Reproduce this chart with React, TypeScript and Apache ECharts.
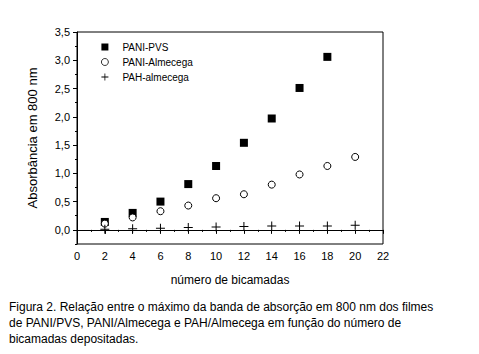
import React, { useEffect, useRef } from "react";
import * as echarts from "echarts";

const bilayers = [2, 4, 6, 8, 10, 12, 14, 16, 18, 20];
const paniPvs = [0.14, 0.3, 0.5, 0.81, 1.13, 1.54, 1.97, 2.51, 3.06];
const paniAlmecega = [0.11, 0.22, 0.33, 0.43, 0.56, 0.63, 0.8, 0.98, 1.13, 1.29];
const pahAlmecega = [0.01, 0.02, 0.03, 0.04, 0.05, 0.06, 0.07, 0.07, 0.07, 0.08];
const yTicks = [0, 0.5, 1, 1.5, 2, 2.5, 3, 3.5];
const yMinorTicks = [-0.25, 0.25, 0.75, 1.25, 1.75, 2.25, 2.75, 3.25];
const seriesNames = ["PANI-PVS", "PANI-Almecega", "PAH-almecega"];
const captionLines = [
  "Figura 2. Relação entre o máximo da banda de absorção em 800 nm dos filmes",
  "de PANI/PVS, PANI/Almecega e PAH/Almecega em função do número de",
  "bicamadas depositadas.",
];

const PLUS = "path://M4,0h1v4h4v1h-4v4h-1v-4h-4v-1h4z";
const FONT = "Arial, 'Liberation Sans', sans-serif";

export default function App() {
  const ref = useRef<HTMLDivElement>(null);
  useEffect(() => {
    if (!ref.current) return;
    const chart = echarts.init(ref.current, null, { renderer: "svg" });
    const pair = (vals: number[]) => vals.map((v, i) => [bilayers[i], v]);
    const yBase = {
      type: "value",
      min: -0.25,
      max: 3.5,
      splitLine: { show: false },
    };
    chart.setOption({
      animation: false,
      backgroundColor: "#fff",
      textStyle: { fontFamily: FONT },
      grid: {
        left: 77,
        top: 32,
        right: 96,
        bottom: 110,
        show: true,
        borderColor: "#000",
        borderWidth: 1,
        backgroundColor: "transparent",
      },
      legend: {
        orient: "vertical",
        left: 101,
        top: 42,
        padding: 0,
        itemWidth: 7,
        itemHeight: 7,
        itemGap: 5,
        itemStyle: { borderWidth: 0.8 },
        textStyle: {
          fontSize: 10,
          color: "#000",
          lineHeight: 10,
          padding: [0, 0, 0, 9],
        },
        data: seriesNames,
      },
      xAxis: {
        type: "value",
        min: 0,
        max: 22,
        interval: 2,
        name: "número de bicamadas",
        nameLocation: "middle",
        nameGap: 30,
        nameTextStyle: { fontSize: 12, color: "#000" },
        axisLine: { show: true, lineStyle: { color: "#000", width: 1 } },
        axisTick: { show: true, inside: false, length: 4, lineStyle: { color: "#000" } },
        minorTick: { show: true, splitNumber: 2, length: 2, lineStyle: { color: "#000" } },
        axisLabel: { fontSize: 11, color: "#000", margin: 6 },
        splitLine: { show: false },
      },
      yAxis: [
        {
          ...yBase,
          name: "Absorbância em 800 nm",
          nameLocation: "middle",
          nameGap: 38,
          nameTextStyle: { fontSize: 13, color: "#000" },
          axisLine: { show: true, lineStyle: { color: "#000", width: 1 } },
          axisTick: {
            show: true,
            length: 4,
            customValues: yTicks,
            lineStyle: { color: "#000" },
          },
          axisLabel: {
            fontSize: 11,
            color: "#000",
            margin: 7,
            customValues: yTicks,
            formatter: (v: number) => v.toFixed(1).replace(".", ","),
          },
        },
        {
          ...yBase,
          position: "left",
          axisLine: { show: false },
          axisTick: {
            show: true,
            length: 2,
            customValues: yMinorTicks,
            lineStyle: { color: "#000" },
          },
          axisLabel: { show: false },
        },
      ],
      series: [
        {
          name: seriesNames[0],
          type: "scatter",
          symbol: "rect",
          symbolSize: 8,
          itemStyle: { color: "#000", opacity: 1 },
          data: pair(paniPvs),
        },
        {
          name: seriesNames[1],
          type: "scatter",
          symbol: "circle",
          symbolSize: 7,
          itemStyle: { color: "#fff", borderColor: "#000", borderWidth: 1, opacity: 1 },
          data: pair(paniAlmecega),
        },
        {
          name: seriesNames[2],
          type: "scatter",
          symbol: PLUS,
          symbolSize: 9,
          itemStyle: { color: "#000", opacity: 1 },
          data: pair(pahAlmecega),
        },
      ],
      graphic: captionLines.map((t, i) => ({
        type: "text",
        left: 9,
        top: 301 + i * 16,
        style: { text: t, font: `12px ${FONT}`, fill: "#000" },
      })),
    });
    return () => chart.dispose();
  }, []);
  return (
    <div
      ref={ref}
      style={{ position: "fixed", left: 0, top: 0, width: 479, height: 354 }}
    />
  );
}
